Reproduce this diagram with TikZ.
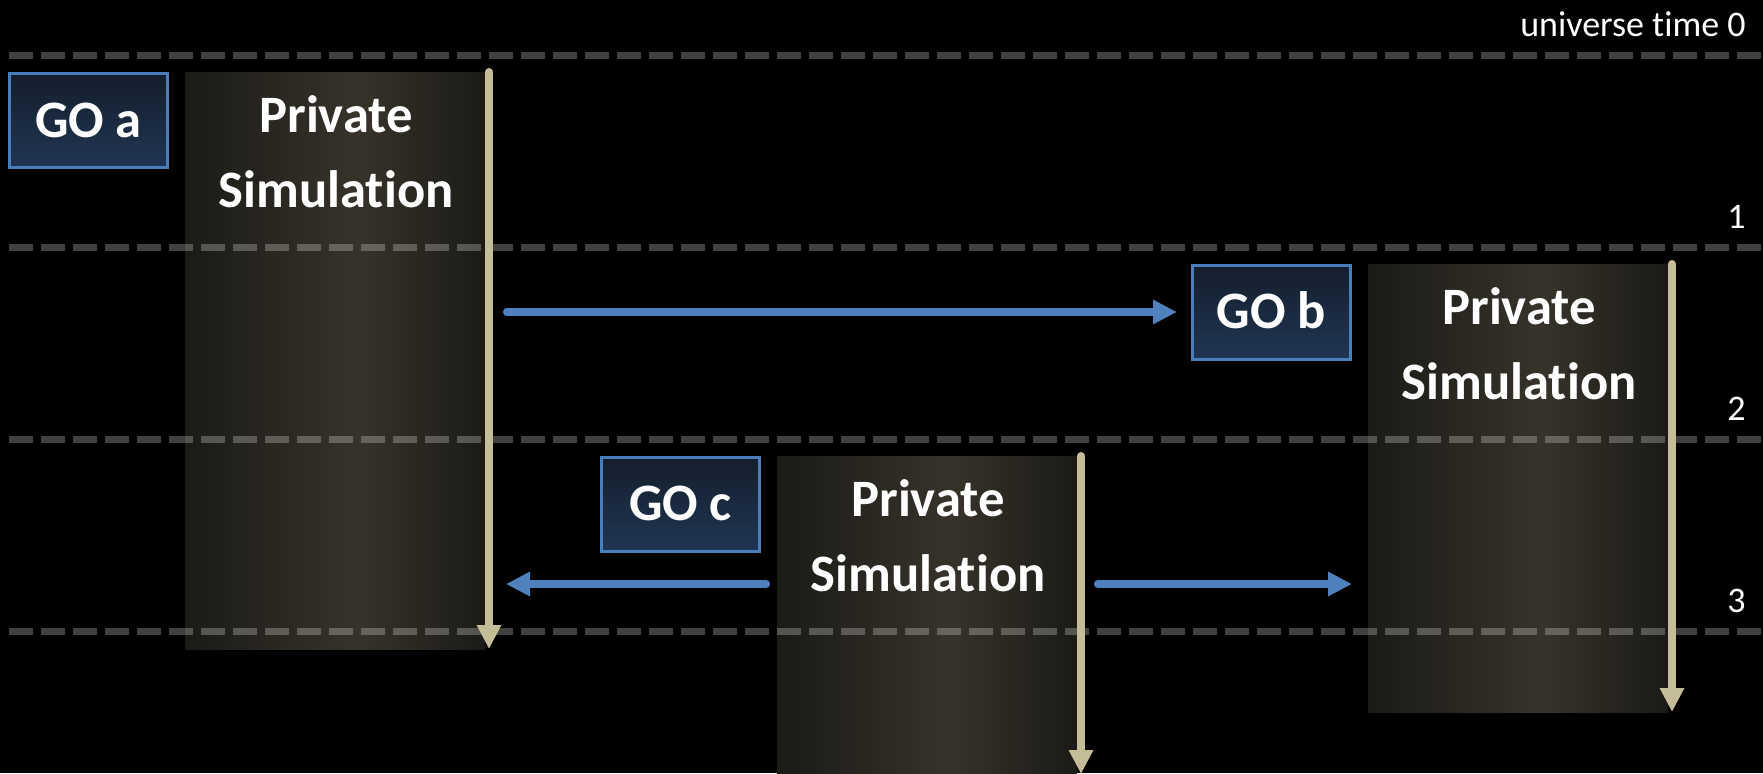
\documentclass[tikz,border=0pt]{standalone}
\usepackage{fontspec}
\setmainfont[Ligatures=NoCommon]{Carlito}
\usetikzlibrary{arrows.meta}
\definecolor{tanc}{HTML}{C4BD97}
\definecolor{bluec}{HTML}{4F81BD}
\definecolor{boxtop}{HTML}{141E2C}
\definecolor{boxbot}{HTML}{203553}
\definecolor{boxline}{HTML}{4A7EBB}
\definecolor{simedge}{HTML}{1B1A16}
\definecolor{simmid}{HTML}{37332B}
\pgfdeclarehorizontalshading{simshade}{100bp}{color(0bp)=(simedge); color(25bp)=(simedge); color(54bp)=(simmid); color(75bp)=(simedge); color(100bp)=(simedge)}
\begin{document}
\begin{tikzpicture}[x=0.5pt,y=-0.5pt,
  gobox/.style={draw=boxline, line width=1.5pt, top color=boxtop, bottom color=boxbot,
    minimum width=79pt, minimum height=47pt, inner sep=0pt,
    font=\bfseries\fontsize{26.3}{30}\selectfont, text=white, text height=16.9pt, text depth=0pt},
  simbox/.style={shade, shading=simshade, minimum width=150pt, inner sep=0pt, outer sep=0pt, anchor=north west},
  simtext/.style={font=\bfseries\fontsize{26.3}{30}\selectfont, text=white, anchor=base, inner sep=0pt},
  timeline/.style={draw=white, draw opacity=0.25, line width=3.5pt, dash pattern=on 12pt off 4pt},
  timelabel/.style={font=\fontsize{18}{22}\selectfont, text=white, anchor=base east, inner sep=0pt},
  simarrow/.style={draw=tanc, fill=tanc, line width=4pt, line cap=round, -{Triangle[width=11.5pt,length=12pt]}},
  msgarrow/.style={draw=bluec, fill=bluec, line width=4pt, line cap=round, -{Triangle[width=11.5pt,length=12pt]}}]
\fill[black] (0,0) rectangle (1763,773);
\useasboundingbox (0,0) rectangle (1763,773);

% private simulation blocks
\node[simbox, minimum height=288.5pt] (simA) at (185,72) {};
\node[simbox, minimum height=224pt] (simB) at (1368,264) {};
\node[simbox, minimum height=162pt] (simC) at (777,456) {};

% GO boxes
\node[gobox] (goA) at (88.5,120.5) {GO a};
\node[gobox] (goB) at (1271.5,312) {GO b};
\node[gobox] (goC) at (680.5,504) {GO c};

% universe time lines
\coordinate (l0a) at (9,55.5);   \coordinate (l0b) at (1763,55.5);
\coordinate (l1a) at (9,247.5);  \coordinate (l1b) at (1763,247.5);
\coordinate (l2a) at (9,439.5);  \coordinate (l2b) at (1763,439.5);
\coordinate (l3a) at (9,631.5);  \coordinate (l3b) at (1763,631.5);
\draw[timeline] (l0a) -- (l0b);
\draw[timeline] (l1a) -- (l1b);
\draw[timeline] (l2a) -- (l2b);
\draw[timeline] (l3a) -- (l3b);

\node[timelabel] (t0) at (1746,36) {universe time 0};
\node[timelabel] (t1) at (1746,228) {1};
\node[timelabel] (t2) at (1746,420) {2};
\node[timelabel] (t3) at (1746,612) {3};

% private simulation time arrows
\coordinate (aTop) at (489,72);   \coordinate (aEnd) at (489,649);
\coordinate (bTop) at (1672,264); \coordinate (bEnd) at (1672,712);
\coordinate (cTop) at (1081,456); \coordinate (cEnd) at (1081,774);
\draw[simarrow] (aTop) -- (aEnd);
\draw[simarrow] (bTop) -- (bEnd);
\draw[simarrow] (cTop) -- (cEnd);

% messages
\coordinate (abS) at (507,312);
\draw[msgarrow] (abS) -- ([xshift=-7pt]goB.west);
\coordinate (caS) at (766,584); \coordinate (caE) at (506,584);
\draw[msgarrow] (caS) -- (caE);
\coordinate (cbS) at (1098,584); \coordinate (cbE) at (1352,584);
\draw[msgarrow] (cbS) -- (cbE);

% labels
\node[simtext] (pa1) at (336,132) {Private};
\node[simtext] (pa2) at (336,207) {Simulation};
\node[simtext] (pb1) at (1519,324) {Private};
\node[simtext] (pb2) at (1519,399) {Simulation};
\node[simtext] (pc1) at (928,516) {Private};
\node[simtext] (pc2) at (928,591) {Simulation};
\end{tikzpicture}
\end{document}
